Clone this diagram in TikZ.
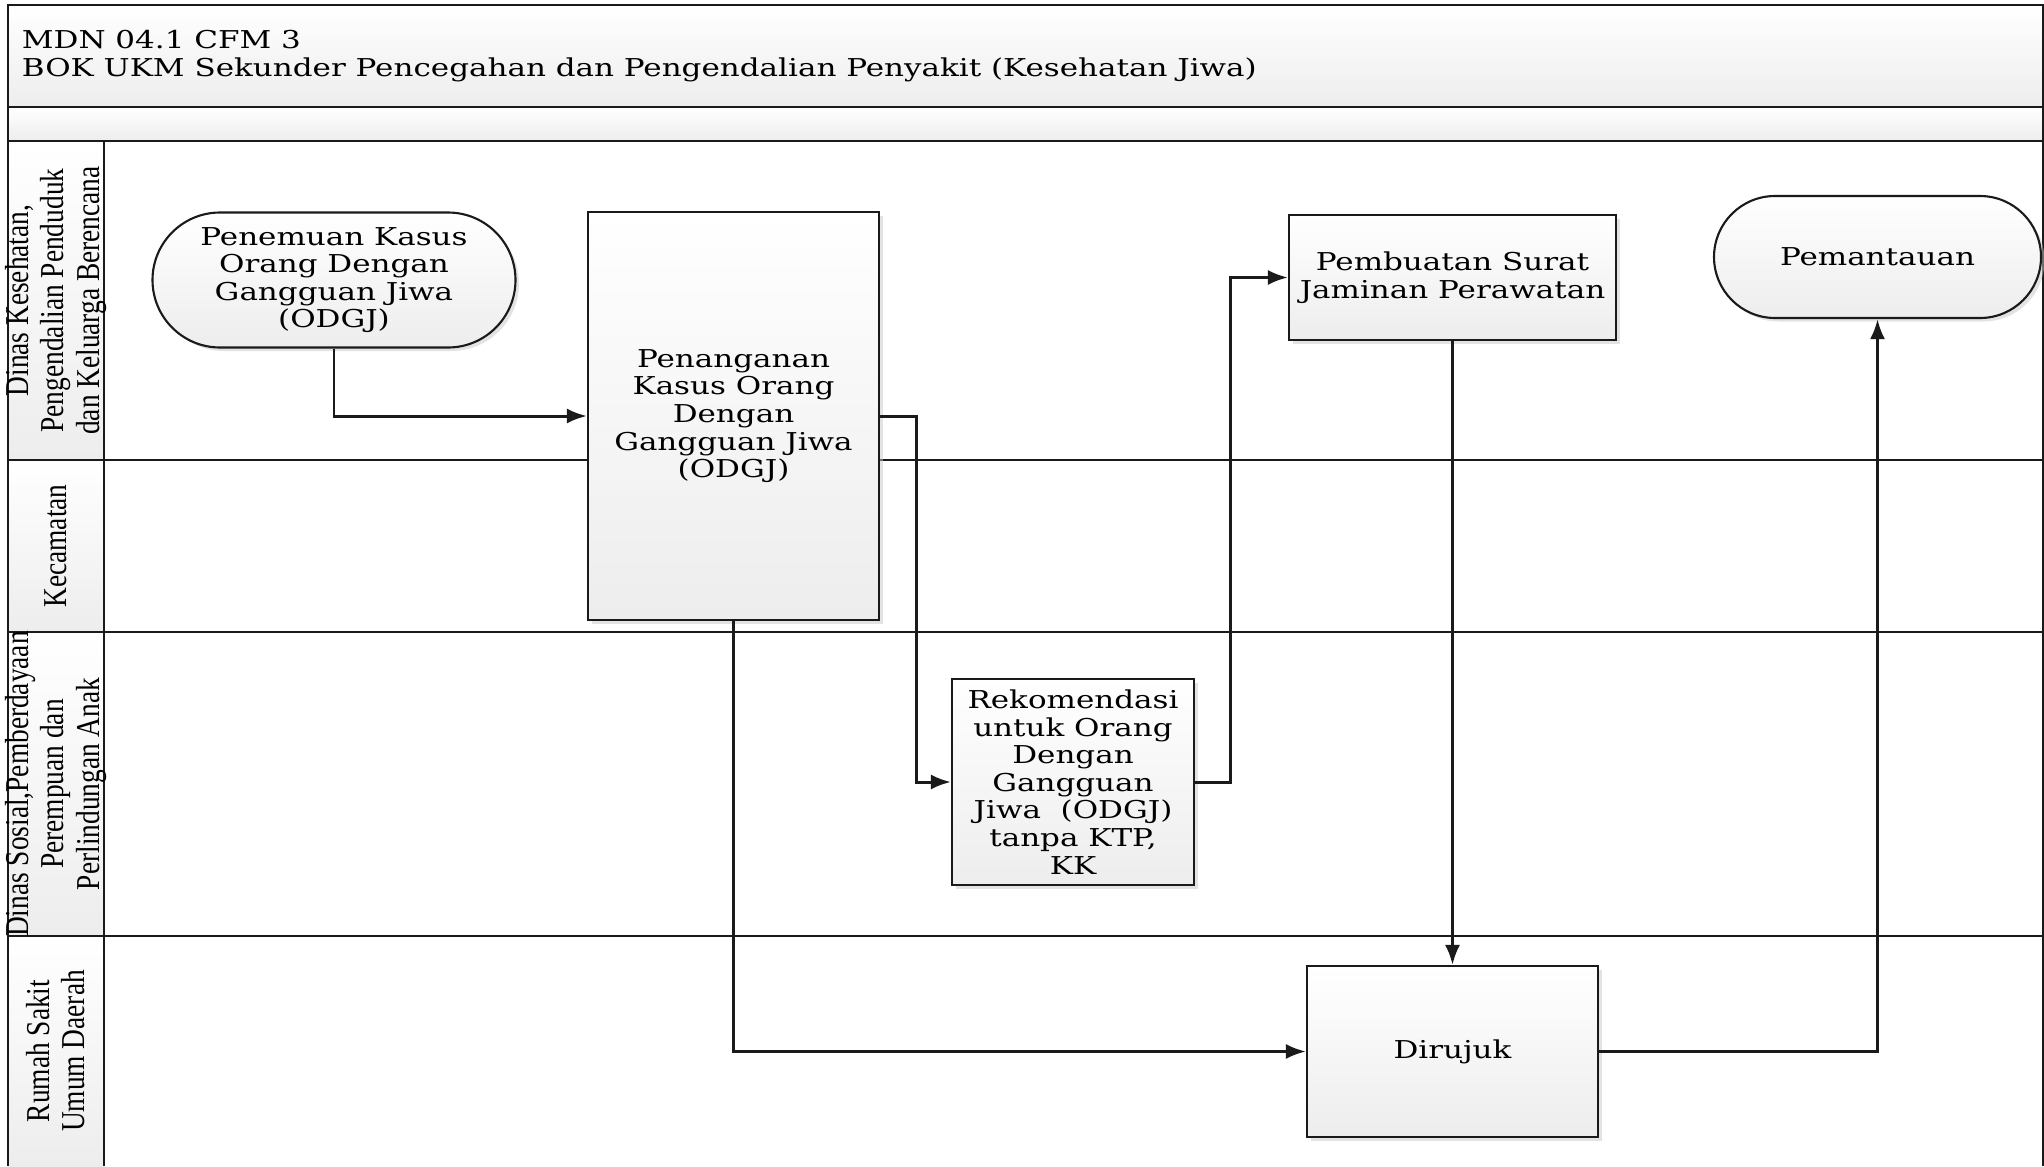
\documentclass[tikz,border=0pt]{standalone}
\usepackage{fontspec}
\setmainfont{DejaVu Serif}[FakeStretch=1.26]
\newfontfamily\lanefont{Liberation Serif}[FakeStretch=0.82]
\usepackage{tikz}
\usetikzlibrary{arrows.meta, positioning, shadows, calc}
\definecolor{shadecol}{HTML}{EDEDED}
\definecolor{linecol}{HTML}{1A1A1A}

\begin{document}
\begin{tikzpicture}[
  line width=1.2pt,
  >={Latex[length=0.40cm, width=0.30cm]},
  every node/.style={align=center},
  proc/.style={draw=linecol, top color=white, bottom color=shadecol,
               drop shadow={shadow xshift=0.07cm, shadow yshift=-0.07cm,
                            fill=black!22},
               inner sep=2pt, font=\fontsize{14}{15.7}\selectfont},
  term/.style={proc, rounded corners=#1},
  band/.style={top color=white, bottom color=shadecol},
  lanelbl/.style={rotate=90, font=\lanefont\fontsize{19}{20}\selectfont},
  arr/.style={->, draw=linecol, line width=1.7pt}
]
\useasboundingbox (0,0) rectangle (40.88,-23.32);

%% ── Title bands ───────────────────────────────────────────────────────────
\path[band] (0.16,-0.10) rectangle (40.86,-2.14);
\path[band] (0.16,-2.14) rectangle (40.86,-2.82);
\foreach \ya/\yb in {-2.82/-9.20, -9.20/-12.64, -12.64/-18.72, -18.72/-23.32}
  \path[band] (0.16,\ya) rectangle (2.08,\yb);

\node[anchor=west, align=left, font=\fontsize{14}{15.7}\selectfont] (title)
      at (0.30,-1.12)
      {MDN 04.1 CFM 3\\
       BOK UKM Sekunder Pencegahan dan Pengendalian Penyakit (Kesehatan Jiwa)};

%% ── Swimlane grid ─────────────────────────────────────────────────────────
\draw[linecol, line width=1.6pt] (0.16,-23.32) -- (0.16,-0.10)
      -- (40.86,-0.10) -- (40.86,-23.32);
\foreach \y in {-2.14, -2.82, -9.20, -12.64, -18.72}
  \draw[linecol] (0.16,\y) -- (40.86,\y);
\draw[linecol] (2.08,-2.82) -- (2.08,-23.32);

%% ── Lane labels ───────────────────────────────────────────────────────────
\node[lanelbl] (dinkes)  at (1.12,-6.01)
      {Dinas Kesehatan,\\Pengendalian Penduduk\\dan Keluarga Berencana};
\node[lanelbl] (camat)   at (1.12,-10.92) {Kecamatan};
\node[lanelbl] (dinsos)  at (1.12,-15.68)
      {Dinas Sosial,Pemberdayaan\\Perempuan dan\\Perlindungan Anak};
\node[lanelbl] (rsud)    at (1.12,-21.02) {Rumah Sakit\\Umum Daerah};

%% ── Process steps ─────────────────────────────────────────────────────────
\node[term=1.35cm, minimum width=7.26cm, minimum height=2.70cm] (penemuan)
      at (6.68,-5.60)
      {Penemuan Kasus\\Orang Dengan\\Gangguan Jiwa\\(ODGJ)};

\node[proc, minimum width=5.82cm, minimum height=8.16cm] (penanganan)
      at (14.67,-8.32)
      {Penanganan\\Kasus Orang\\Dengan\\Gangguan Jiwa\\(ODGJ)};

\node[proc, minimum width=4.84cm, minimum height=4.12cm] (rekomendasi)
      at (21.46,-15.64)
      {Rekomendasi\\untuk Orang\\Dengan\\Gangguan\\Jiwa\ \ (ODGJ)\\tanpa KTP,\\KK};

\node[proc, minimum width=6.54cm, minimum height=2.50cm] (pembuatan)
      at (29.05,-5.55)
      {Pembuatan Surat\\Jaminan Perawatan};

\node[proc, minimum width=5.82cm, minimum height=3.42cm] (dirujuk)
      at (29.05,-21.03) {Dirujuk};

\node[term=1.22cm, minimum width=6.54cm, minimum height=2.44cm] (pemantauan)
      at (37.55,-5.14) {Pemantauan};

%% ── Flow ──────────────────────────────────────────────────────────────────
\draw[arr] (penemuan.south) |- (penanganan.west);
\draw[arr] (penanganan.east) -- ++(0.72,0) |- (rekomendasi.west);
\draw[arr] (rekomendasi.east) -- ++(0.70,0) |- (pembuatan.west);
\draw[arr] (pembuatan.south) -- (dirujuk.north);
\draw[arr] (penanganan.south) |- (dirujuk.west);
\draw[arr] (dirujuk.east) -| (pemantauan.south);

\end{tikzpicture}
\end{document}
